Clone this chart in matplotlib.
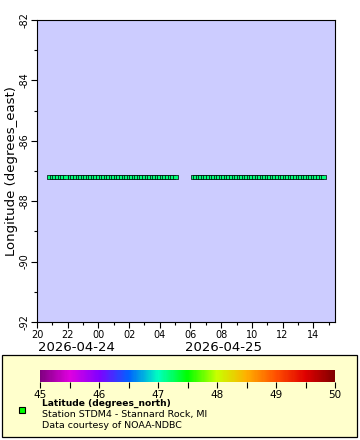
import matplotlib
matplotlib.use("Agg")
import matplotlib.pyplot as plt
import matplotlib.dates as mdates
from matplotlib.colors import LinearSegmentedColormap
from matplotlib.patches import Rectangle
from matplotlib.ticker import MultipleLocator
import pandas as pd

# ---- data ----
times_seg1 = ["2026-04-24 20:50", "2026-04-24 21:00", "2026-04-24 21:10", "2026-04-24 21:20",
              "2026-04-24 21:30", "2026-04-24 21:40", "2026-04-24 21:50"]
times_seg2 = ["2026-04-24 22:10", "2026-04-24 22:20", "2026-04-24 22:30", "2026-04-24 22:40", "2026-04-24 22:50",
              "2026-04-24 23:00", "2026-04-24 23:10", "2026-04-24 23:20", "2026-04-24 23:30", "2026-04-24 23:40",
              "2026-04-24 23:50",
              "2026-04-25 00:00", "2026-04-25 00:10", "2026-04-25 00:20", "2026-04-25 00:30", "2026-04-25 00:40", "2026-04-25 00:50",
              "2026-04-25 01:00", "2026-04-25 01:10", "2026-04-25 01:20", "2026-04-25 01:30", "2026-04-25 01:40", "2026-04-25 01:50",
              "2026-04-25 02:00", "2026-04-25 02:10", "2026-04-25 02:20", "2026-04-25 02:30", "2026-04-25 02:40", "2026-04-25 02:50",
              "2026-04-25 03:00", "2026-04-25 03:10", "2026-04-25 03:20", "2026-04-25 03:30", "2026-04-25 03:40", "2026-04-25 03:50",
              "2026-04-25 04:00", "2026-04-25 04:10", "2026-04-25 04:20", "2026-04-25 04:30", "2026-04-25 04:40", "2026-04-25 04:50",
              "2026-04-25 05:00"]
times_seg3 = ["2026-04-25 06:10", "2026-04-25 06:20", "2026-04-25 06:30", "2026-04-25 06:40", "2026-04-25 06:50",
              "2026-04-25 07:00", "2026-04-25 07:10", "2026-04-25 07:20", "2026-04-25 07:30", "2026-04-25 07:40", "2026-04-25 07:50",
              "2026-04-25 08:00", "2026-04-25 08:10", "2026-04-25 08:20", "2026-04-25 08:30", "2026-04-25 08:40", "2026-04-25 08:50",
              "2026-04-25 09:00", "2026-04-25 09:10", "2026-04-25 09:20", "2026-04-25 09:30", "2026-04-25 09:40", "2026-04-25 09:50",
              "2026-04-25 10:00", "2026-04-25 10:10", "2026-04-25 10:20", "2026-04-25 10:30", "2026-04-25 10:40", "2026-04-25 10:50",
              "2026-04-25 11:00", "2026-04-25 11:10", "2026-04-25 11:20", "2026-04-25 11:30", "2026-04-25 11:40", "2026-04-25 11:50",
              "2026-04-25 12:00", "2026-04-25 12:10", "2026-04-25 12:20", "2026-04-25 12:30", "2026-04-25 12:40", "2026-04-25 12:50",
              "2026-04-25 13:00", "2026-04-25 13:10", "2026-04-25 13:20", "2026-04-25 13:30", "2026-04-25 13:40", "2026-04-25 13:50",
              "2026-04-25 14:00", "2026-04-25 14:10", "2026-04-25 14:20", "2026-04-25 14:30", "2026-04-25 14:40"]
station_lon = -87.2
station_lat = 47.18
x_range = ["2026-04-24 20:00", "2026-04-25 15:25"]
y_range = [-92, -82]
cbar_range = [45, 50]
date_labels = ["2026-04-24", "2026-04-25"]
legend_title = "Latitude (degrees_north)"
legend_lines = ["Station STDM4 - Stannard Rock, MI", "Data courtesy of NOAA-NDBC"]

times = pd.to_datetime(times_seg1 + times_seg2 + times_seg3)
lons = [station_lon] * len(times)
lats = [station_lat] * len(times)

# ERDDAP-like rainbow palette
cmap = LinearSegmentedColormap.from_list("erddap_rainbow", [
    (0.0, "#800080"), (0.1, "#e000e0"), (0.2, "#8000ff"), (0.3, "#0060ff"),
    (0.4, "#00ffc0"), (0.5, "#00ff00"), (0.6, "#c8ff00"), (0.7, "#ffb000"),
    (0.8, "#ff5000"), (0.9, "#e00000"), (1.0, "#800000")])

W, H = 360, 440
fig = plt.figure(figsize=(W / 100, H / 100), dpi=100)
plt.rcParams['font.family'] = ['DejaVu Sans']

def fx(px):
    return px / W

def fy(py):
    return 1 - py / H

# legend panel background (drawn below everything)
fig.add_artist(Rectangle((fx(2), fy(437)), fx(357) - fx(2), fy(355) - fy(437),
                         transform=fig.transFigure, facecolor="#ffffcc", edgecolor="black",
                         linewidth=0.9, zorder=-5))

ax = fig.add_axes([fx(37), fy(322), fx(335) - fx(37), fy(20) - fy(322)])
ax.set_facecolor("#ccccff")
ax.scatter(times, lons, c=lats, cmap=cmap, vmin=cbar_range[0], vmax=cbar_range[1],
           marker="s", s=12, edgecolors="black", linewidths=0.5, zorder=3)
ax.set_xlim(pd.to_datetime(x_range[0]), pd.to_datetime(x_range[1]))
ax.set_ylim(*y_range)
ax.xaxis.set_major_locator(mdates.HourLocator(byhour=range(0, 24, 2)))
ax.xaxis.set_minor_locator(mdates.HourLocator())
ax.xaxis.set_major_formatter(mdates.DateFormatter("%H"))
ax.yaxis.set_major_locator(MultipleLocator(2))
ax.yaxis.set_minor_locator(MultipleLocator(1))
ax.yaxis.set_major_formatter(matplotlib.ticker.FuncFormatter(lambda v, p: f"{int(v)}"))
ax.tick_params(axis="both", which="major", length=4, width=0.8, labelsize=7, pad=1.5)
ax.tick_params(axis="both", which="minor", length=2.5, width=0.8)
for lbl in ax.get_yticklabels():
    lbl.set_rotation(90)
    lbl.set_va("center")
for sp in ax.spines.values():
    sp.set_linewidth(0.8)
ax.set_ylabel("Longitude (degrees_east)", fontsize=9.5, labelpad=1)

fig.text(fx(76), fy(347), date_labels[0], fontsize=9.5, ha="center", va="center")
fig.text(fx(224), fy(347), date_labels[1], fontsize=9.5, ha="center", va="center")

cax = fig.add_axes([fx(40), fy(382), fx(335) - fx(40), fy(370) - fy(382)])
sm = matplotlib.cm.ScalarMappable(norm=matplotlib.colors.Normalize(*cbar_range), cmap=cmap)
cb = fig.colorbar(sm, cax=cax, orientation="horizontal")
cb.outline.set_visible(False)
cb.set_ticks([45, 46, 47, 48, 49, 50])
cax.xaxis.set_minor_locator(MultipleLocator(0.5))
cax.tick_params(axis="x", which="both", length=4, width=0.8, labelsize=7.5, pad=1.5)

fig.add_artist(Rectangle((fx(19), fy(413)), fx(6), fy(0) - fy(6),
                         transform=fig.transFigure, facecolor="#00ff00",
                         edgecolor="black", linewidth=0.8, zorder=5))
fig.text(fx(42), fy(403), legend_title, fontsize=6.6, fontweight="bold", ha="left", va="center")
fig.text(fx(42), fy(414), legend_lines[0], fontsize=6.8, ha="left", va="center")
fig.text(fx(42), fy(425), legend_lines[1], fontsize=6.8, ha="left", va="center")

fig.savefig("out.png", dpi=100)
